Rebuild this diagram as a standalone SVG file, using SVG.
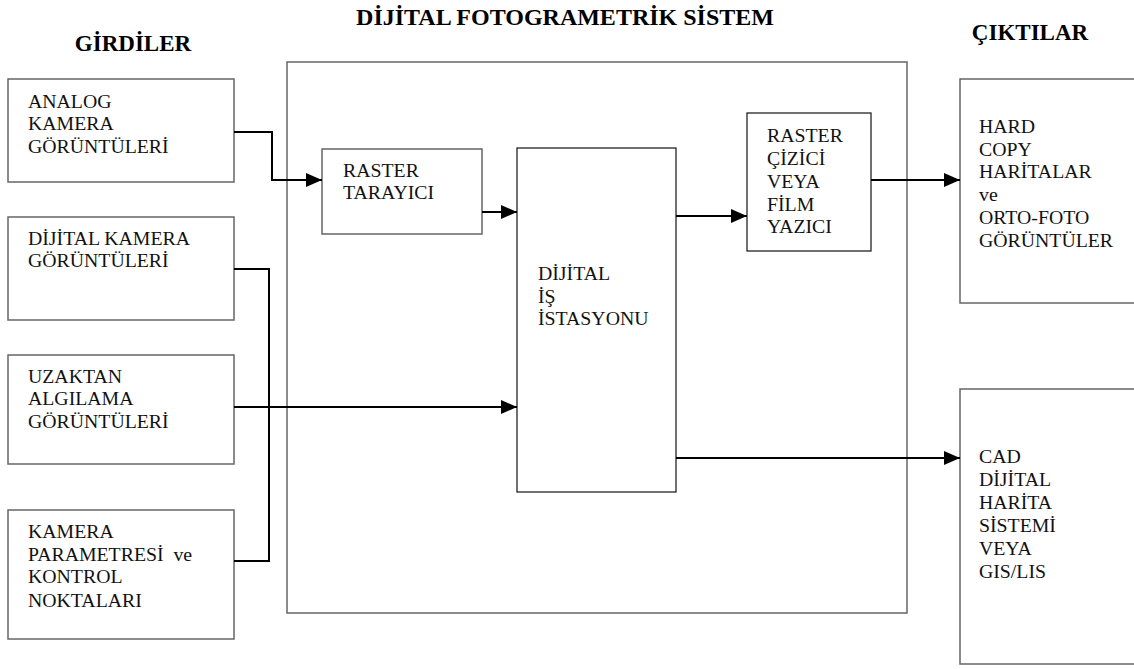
<svg xmlns="http://www.w3.org/2000/svg" width="1134" height="669" viewBox="0 0 1134 669">
<style>
.box{fill:none;stroke:#666;stroke-width:1.5}
.dbox{fill:none;stroke:#111;stroke-width:1.2}
.t{font-family:"Liberation Serif","Times New Roman",serif;font-size:19.8px;fill:#111}
.h{font-family:"Liberation Serif","Times New Roman",serif;font-size:23px;font-weight:bold;fill:#000;text-anchor:middle}
.c{fill:none;stroke:#000;stroke-width:2}
</style>
<defs>
<marker id="ah" markerUnits="userSpaceOnUse" markerWidth="16" markerHeight="14" refX="16" refY="7" orient="auto">
<path d="M0,0 L16,7 L0,14 z" fill="#000"/>
</marker>
</defs>
<rect width="1134" height="669" fill="#fff"/>
<g id="titles">
<text class="h" x="565" y="25" style="font-size:24px">DİJİTAL FOTOGRAMETRİK SİSTEM</text>
<text class="h" x="133" y="51">GİRDİLER</text>
<text class="h" x="1030" y="40">ÇIKTILAR</text>
</g>
<g id="system">
<rect class="box" x="287" y="62" width="620" height="551"/>
</g>
<g id="analog">
<rect class="box" x="8" y="79" width="226" height="103"/>
<text class="t" x="28" y="108">ANALOG</text>
<text class="t" x="28" y="130">KAMERA</text>
<text class="t" x="28" y="153">GÖRÜNTÜLERİ</text>
</g>
<g id="dijital-kamera">
<rect class="box" x="8" y="217" width="226" height="103"/>
<text class="t" x="28" y="245">DİJİTAL KAMERA</text>
<text class="t" x="28" y="267">GÖRÜNTÜLERİ</text>
</g>
<g id="uzaktan">
<rect class="box" x="8" y="355" width="226" height="109"/>
<text class="t" x="28" y="383">UZAKTAN</text>
<text class="t" x="28" y="405">ALGILAMA</text>
<text class="t" x="28" y="428">GÖRÜNTÜLERİ</text>
</g>
<g id="kamera-param">
<rect class="box" x="8" y="510" width="226" height="129"/>
<text class="t" x="28" y="538">KAMERA</text>
<text class="t" x="28" y="561" xml:space="preserve">PARAMETRESİ  ve</text>
<text class="t" x="28" y="583">KONTROL</text>
<text class="t" x="28" y="607">NOKTALARI</text>
</g>
<g id="raster-tarayici">
<rect class="box" x="322" y="149" width="160" height="85"/>
<text class="t" x="343" y="177">RASTER</text>
<text class="t" x="343" y="199">TARAYICI</text>
</g>
<g id="is-istasyonu">
<rect class="dbox" x="517" y="148" width="159" height="344"/>
<text class="t" x="538" y="280">DİJİTAL</text>
<text class="t" x="538" y="303">İŞ</text>
<text class="t" x="538" y="325">İSTASYONU</text>
</g>
<g id="raster-cizici">
<rect class="dbox" x="747" y="113" width="124" height="138"/>
<text class="t" x="767" y="142">RASTER</text>
<text class="t" x="767" y="165">ÇİZİCİ</text>
<text class="t" x="767" y="188">VEYA</text>
<text class="t" x="767" y="211">FİLM</text>
<text class="t" x="767" y="233">YAZICI</text>
</g>
<g id="hard-copy">
<rect class="box" x="960" y="79" width="190" height="224"/>
<text class="t" x="979" y="133">HARD</text>
<text class="t" x="979" y="156">COPY</text>
<text class="t" x="979" y="178">HARİTALAR</text>
<text class="t" x="979" y="201">ve</text>
<text class="t" x="979" y="224">ORTO-FOTO</text>
<text class="t" x="979" y="247">GÖRÜNTÜLER</text>
</g>
<g id="cad">
<rect class="box" x="960" y="389" width="190" height="275"/>
<text class="t" x="979" y="463">CAD</text>
<text class="t" x="979" y="486">DİJİTAL</text>
<text class="t" x="979" y="509">HARİTA</text>
<text class="t" x="979" y="532">SİSTEMİ</text>
<text class="t" x="979" y="555">VEYA</text>
<text class="t" x="979" y="578">GIS/LIS</text>
</g>
<g id="connectors">
<polyline class="c" points="234,132 272,132 272,180 322,180" marker-end="url(#ah)"/>
<line class="c" x1="482" y1="212" x2="517" y2="212" marker-end="url(#ah)"/>
<line class="c" x1="676" y1="216" x2="747" y2="216" marker-end="url(#ah)"/>
<line class="c" x1="871" y1="180" x2="960" y2="180" marker-end="url(#ah)"/>
<polyline class="c" points="234,269 269,269 269,561 234,561"/>
<line class="c" x1="234" y1="407" x2="517" y2="407" marker-end="url(#ah)"/>
<line class="c" x1="676" y1="458" x2="960" y2="458" marker-end="url(#ah)"/>
</g>
</svg>
